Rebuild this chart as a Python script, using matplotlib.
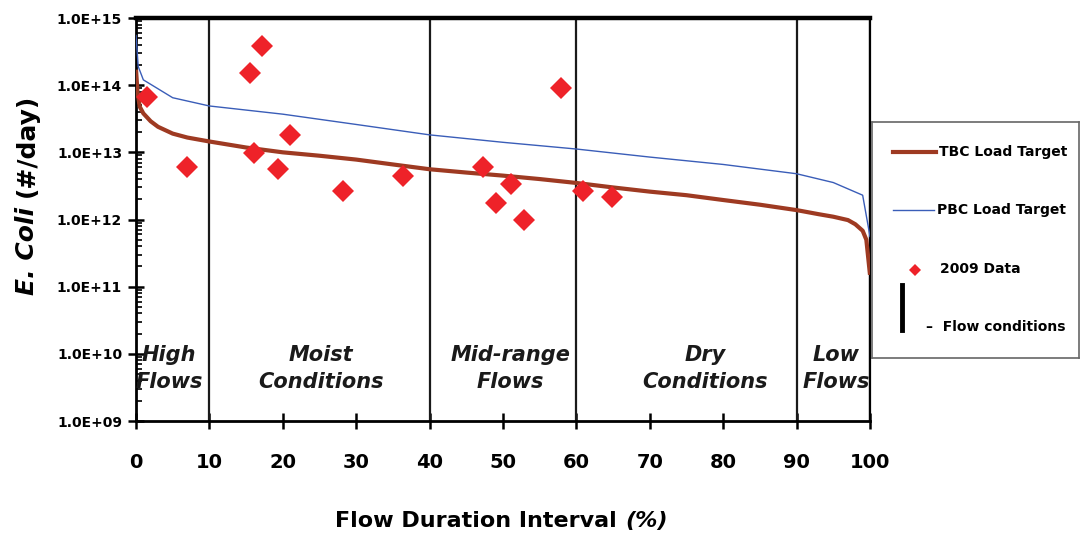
import matplotlib
matplotlib.use("Agg")
import matplotlib.pyplot as plt
from matplotlib.ticker import FuncFormatter, LogLocator, NullFormatter
from matplotlib.lines import Line2D

# ---- data ----
tbc_x = [0, 0.2, 0.5, 1, 2, 3, 5, 7, 10, 15, 20, 25, 30, 35, 40, 45, 50, 55, 60,
         65, 70, 75, 80, 85, 90, 93, 95, 97, 98, 99, 99.5, 100]
tbc_y = [1.7e14, 8.0e13, 4.8e13, 3.8e13, 2.9e13, 2.4e13, 1.9e13, 1.66e13, 1.45e13,
         1.18e13, 1.0e13, 8.9e12, 7.8e12, 6.6e12, 5.6e12, 5.0e12, 4.5e12, 4.0e12,
         3.5e12, 3.0e12, 2.6e12, 2.3e12, 1.95e12, 1.66e12, 1.38e12, 1.2e12, 1.1e12,
         9.8e11, 8.5e11, 6.8e11, 5.0e11, 1.5e11]

pbc_x = [0, 0.3, 1, 5, 10, 20, 30, 40, 50, 60, 70, 80, 90, 95, 99, 100]
pbc_y = [5.5e14, 1.9e14, 1.2e14, 6.5e13, 4.9e13, 3.7e13, 2.6e13, 1.82e13, 1.41e13,
         1.12e13, 8.5e12, 6.6e12, 4.8e12, 3.55e12, 2.3e12, 5.6e11]

data_x = [1.5, 6.9, 15.5, 17.2, 16.1, 21.0, 19.3, 28.2, 36.4, 47.3, 51.1, 49.1,
          52.9, 57.9, 60.9, 64.9]
data_y = [6.6e13, 6.1e12, 1.5e14, 3.8e14, 9.8e12, 1.8e13, 5.7e12, 2.7e12, 4.5e12,
          6.1e12, 3.4e12, 1.75e12, 1.0e12, 9.0e13, 2.7e12, 2.15e12]

flow_bounds = [10, 40, 60, 90, 100]
zone_names = ["High\nFlows", "Moist\nConditions", "Mid-range\nFlows",
              "Dry\nConditions", "Low\nFlows"]
zone_x = [4.5, 25.2, 51.0, 77.5, 95.4]

x_ticks = [0, 10, 20, 30, 40, 50, 60, 70, 80, 90, 100]

# ---- style ----
brown = "#9E3A22"
blue = "#3A5DB8"
red = "#EE2229"
plt.rcParams["font.family"] = ["DejaVu Sans"]

fig = plt.figure(figsize=(10.81, 5.35), dpi=100)
ax = fig.add_axes([136 / 1081, 1 - 421 / 535, (870 - 136) / 1081, (421 - 18) / 535])

ax.set_yscale("log")
ax.set_xlim(0, 100)
ax.set_ylim(1e9, 1e15)

ax.vlines(flow_bounds, 1e9, 1e15, colors="#1a1a1a", linewidth=1.6, zorder=2)

ax.plot(tbc_x, tbc_y, color=brown, linewidth=3.0, zorder=3, solid_capstyle="butt")
ax.plot(pbc_x, pbc_y, color=blue, linewidth=1.0, zorder=3)
ax.plot(data_x, data_y, linestyle="None", marker="D", markersize=11.5,
        color=red, markeredgewidth=0, zorder=4)

for zx, name in zip(zone_x, zone_names):
    ax.text(zx, 10 ** 9.78, name, ha="center", va="center", fontsize=15,
            fontweight="bold", style="italic", color="#1a1a1a",
            linespacing=1.45, zorder=5)

# spines
for s in ["left", "bottom"]:
    ax.spines[s].set_linewidth(2.0)
ax.spines["top"].set_linewidth(3.2)
ax.spines["right"].set_linewidth(1.6)

ax.set_xticks(x_ticks)
ax.tick_params(axis="x", direction="inout", length=12, width=1.8, labelsize=14,
               pad=17)
for lab in ax.get_xticklabels():
    lab.set_fontweight("bold")

ax.yaxis.set_major_locator(LogLocator(base=10, numticks=10))
ax.yaxis.set_minor_locator(LogLocator(base=10, subs=range(2, 10), numticks=20))
ax.yaxis.set_major_formatter(FuncFormatter(lambda v, p: "%.1E" % v))
ax.yaxis.set_minor_formatter(NullFormatter())
ax.tick_params(axis="y", which="major", direction="inout", length=12, width=1.8,
               labelsize=10, pad=4)
ax.tick_params(axis="y", which="minor", direction="in", length=4, width=1.2)
for lab in ax.get_yticklabels():
    lab.set_fontweight("bold")

fig.text(0.578, 1 - 521 / 535, "Flow Duration Interval ", ha="right", va="center",
         fontsize=16, fontweight="bold")
fig.text(0.578, 1 - 521 / 535, "(%)", ha="left", va="center",
         fontsize=16, fontweight="bold", style="italic")

fig.text(27 / 1081, 1 - 207 / 535, "E. Coli", rotation=90, ha="center", va="top",
         fontsize=18, fontweight="bold", style="italic")
fig.text(27 / 1081, 1 - 197 / 535, "(#/day)", rotation=90, ha="center", va="bottom",
         fontsize=18, fontweight="bold")

# ---- legend (manual box) ----
lax = fig.add_axes([872 / 1081, 1 - 358 / 535, (1079 - 872) / 1081, (358 - 122) / 535])
lax.set_xlim(872, 1079)
lax.set_ylim(358, 122)
lax.set_xticks([])
lax.set_yticks([])
for s in lax.spines.values():
    s.set_color("#666666")
    s.set_linewidth(1.2)
lax.add_line(Line2D([893, 936], [152, 152], color=brown, linewidth=3))
lax.text(939, 152, "TBC Load Target", va="center", ha="left", fontsize=10,
         fontweight="bold")
lax.add_line(Line2D([893, 934], [210, 210], color=blue, linewidth=1))
lax.text(937, 210, "PBC Load Target", va="center", ha="left", fontsize=10,
         fontweight="bold")
lax.plot([915], [270], marker="D", markersize=6.5, color=red, markeredgewidth=0)
lax.text(940, 269, "2009 Data", va="center", ha="left", fontsize=10,
         fontweight="bold")
lax.add_line(Line2D([902, 902], [285, 330], color="black", linewidth=3.5))
lax.text(926, 327, "\u2013  Flow conditions", va="center", ha="left", fontsize=10,
         fontweight="bold")

fig.savefig("out.png", dpi=100)
